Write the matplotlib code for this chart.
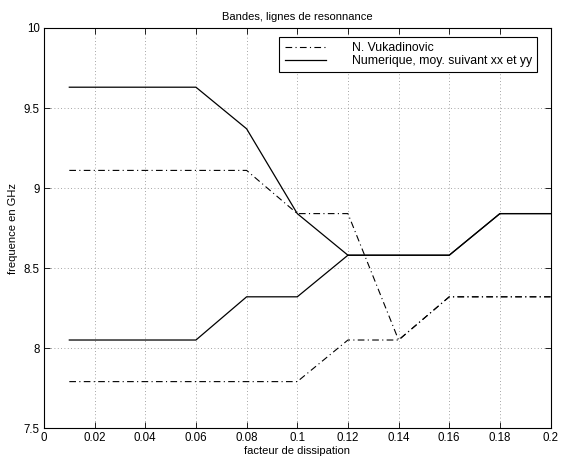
import matplotlib
matplotlib.use("Agg")
import matplotlib.pyplot as plt

plt.rcParams['font.family'] = ['Liberation Sans', 'DejaVu Sans']

x = [0.01, 0.02, 0.04, 0.06, 0.08, 0.10, 0.12, 0.14, 0.16, 0.18, 0.20]
vuk_upper = [9.11, 9.11, 9.11, 9.11, 9.11, 8.84, 8.84, 8.05, 8.32, 8.32, 8.32]
vuk_lower = [7.79, 7.79, 7.79, 7.79, 7.79, 7.79, 8.05, 8.05, 8.32, 8.32, 8.32]
num_upper = [9.63, 9.63, 9.63, 9.63, 9.37, 8.84, 8.58, 8.58, 8.58, 8.84, 8.84]
num_lower = [8.05, 8.05, 8.05, 8.05, 8.32, 8.32, 8.58, 8.58, 8.58, 8.84, 8.84]

xticks = [0, 0.02, 0.04, 0.06, 0.08, 0.1, 0.12, 0.14, 0.16, 0.18, 0.2]
xticklabels = ['0', '0.02', '0.04', '0.06', '0.08', '0.1', '0.12', '0.14', '0.16', '0.18', '0.2']
yticks = [7.5, 8, 8.5, 9, 9.5, 10]
yticklabels = ['7.5', '8', '8.5', '9', '9.5', '10']

fig = plt.figure(figsize=(5.61, 4.59), dpi=100)
ax = fig.add_axes([0.0784, 0.0675, 0.903, 0.8715])

dd = (0, (6, 3, 1, 3))
ax.plot(x, vuk_upper, color='black', lw=0.8, linestyle=dd, label='N. Vukadinovic')
ax.plot(x, num_upper, color='black', lw=0.9, linestyle='-', label='Numerique, moy. suivant xx et yy')
ax.plot(x, vuk_lower, color='black', lw=0.8, linestyle=dd)
ax.plot(x, num_lower, color='black', lw=0.9, linestyle='-')

ax.set_xlim(0, 0.2)
ax.set_ylim(7.5, 10)
ax.set_xticks(xticks)
ax.set_xticklabels(xticklabels)
ax.set_yticks(yticks)
ax.set_yticklabels(yticklabels)
ax.tick_params(direction='in', top=True, right=True, labelsize=8.3, length=4, width=0.6, pad=3)
ax.grid(True, linestyle=(0, (1, 3)), color='#888888', linewidth=0.6)
for s in ax.spines.values():
    s.set_linewidth(0.8)

ax.set_title('Bandes, lignes de resonnance', fontsize=8, pad=6)
ax.set_xlabel('facteur de dissipation', fontsize=8, labelpad=1)
ax.set_ylabel('frequence en GHz', fontsize=8, labelpad=4)

leg = ax.legend(loc='upper right', bbox_to_anchor=(0.974, 0.978), borderaxespad=0, fontsize=8.8,
                frameon=True, fancybox=False, edgecolor='black', framealpha=1,
                handlelength=3.4, borderpad=0.45, labelspacing=0.05, handletextpad=2.1)
leg.get_frame().set_linewidth(0.8)

fig.savefig('out.png', dpi=100)
